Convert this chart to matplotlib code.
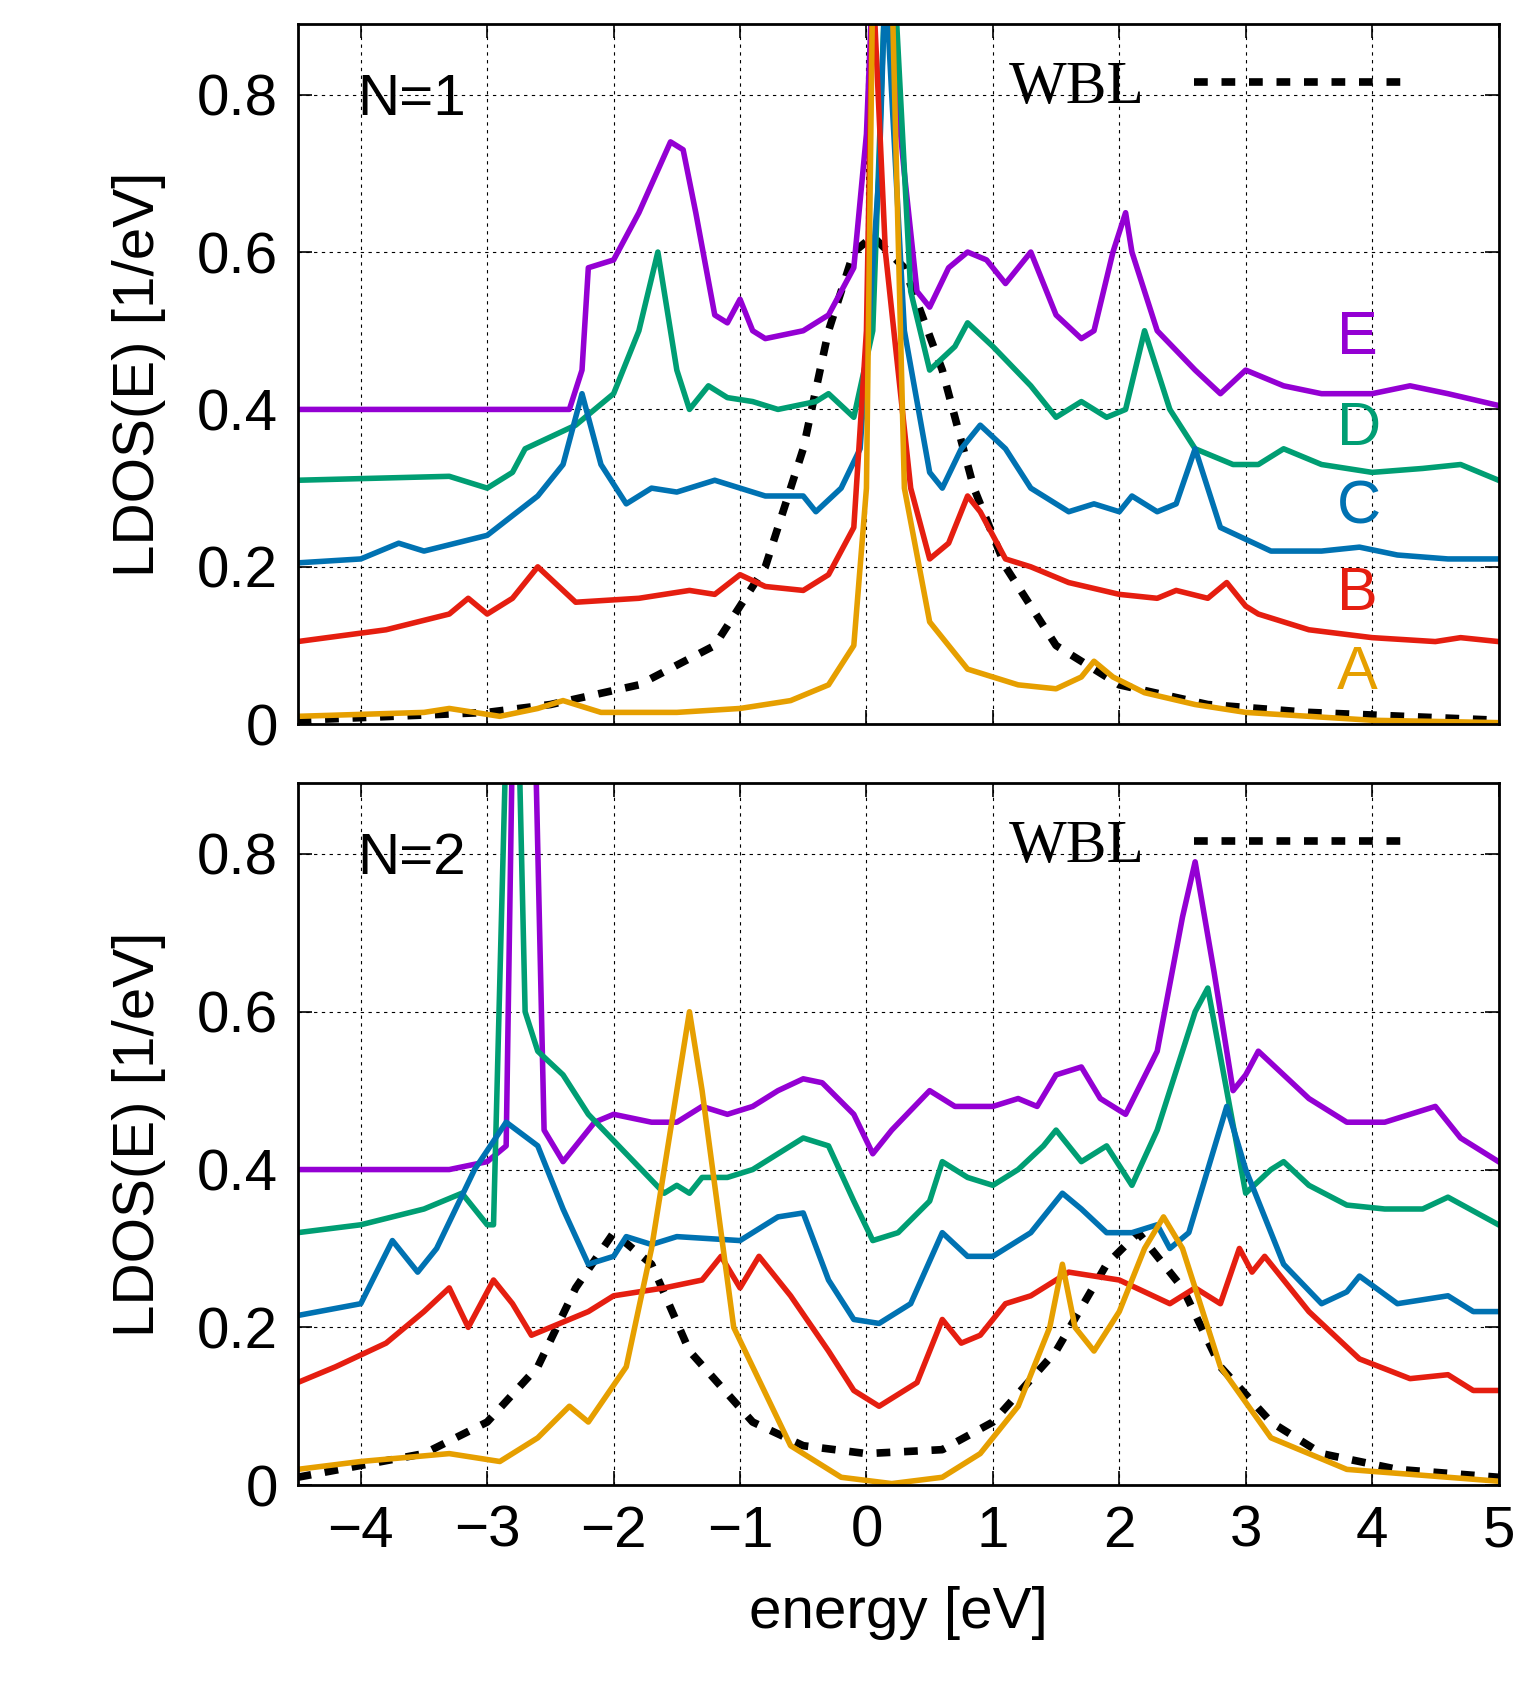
import matplotlib
matplotlib.use("Agg")
import matplotlib.pyplot as plt

# ---- data: (energy, LDOS) ----
top_E_x = [-4.5,-2.35,-2.25,-2.2,-2.0,-1.8,-1.55,-1.45,-1.35,-1.2,-1.1,-1.0,-0.9,-0.8,-0.5,-0.3,-0.1,0.0,0.05,0.15,0.3,0.4,0.5,0.65,0.8,0.95,1.1,1.3,1.5,1.7,1.8,1.95,2.05,2.1,2.3,2.6,2.8,3.0,3.3,3.6,4.0,4.3,4.6,5.0]
top_E_y = [0.4,0.4,0.45,0.58,0.59,0.65,0.74,0.73,0.65,0.52,0.51,0.54,0.5,0.49,0.5,0.52,0.58,0.75,0.95,0.95,0.7,0.55,0.53,0.58,0.6,0.59,0.56,0.6,0.52,0.49,0.5,0.6,0.65,0.6,0.5,0.45,0.42,0.45,0.43,0.42,0.42,0.43,0.42,0.405]
top_D_x = [-4.5,-3.3,-3.0,-2.8,-2.7,-2.3,-2.0,-1.8,-1.65,-1.5,-1.4,-1.25,-1.1,-0.9,-0.7,-0.4,-0.3,-0.1,0.05,0.15,0.22,0.35,0.5,0.7,0.8,1.0,1.3,1.5,1.7,1.9,2.05,2.2,2.4,2.6,2.9,3.1,3.3,3.6,4.0,4.4,4.7,5.0]
top_D_y = [0.31,0.315,0.3,0.32,0.35,0.38,0.42,0.5,0.6,0.45,0.4,0.43,0.415,0.41,0.4,0.41,0.42,0.39,0.5,0.95,0.95,0.55,0.45,0.48,0.51,0.48,0.43,0.39,0.41,0.39,0.4,0.5,0.4,0.35,0.33,0.33,0.35,0.33,0.32,0.325,0.33,0.31]
top_C_x = [-4.5,-4.0,-3.7,-3.5,-3.0,-2.6,-2.4,-2.25,-2.1,-1.9,-1.7,-1.5,-1.2,-1.0,-0.8,-0.5,-0.4,-0.2,-0.05,0.1,0.15,0.3,0.5,0.6,0.75,0.9,1.1,1.3,1.6,1.8,2.0,2.1,2.3,2.45,2.6,2.8,3.2,3.6,3.9,4.2,4.6,5.0]
top_C_y = [0.205,0.21,0.23,0.22,0.24,0.29,0.33,0.42,0.33,0.28,0.3,0.295,0.31,0.3,0.29,0.29,0.27,0.3,0.35,0.7,0.95,0.5,0.32,0.3,0.35,0.38,0.35,0.3,0.27,0.28,0.27,0.29,0.27,0.28,0.35,0.25,0.22,0.22,0.225,0.215,0.21,0.21]
top_B_x = [-4.5,-3.8,-3.3,-3.15,-3.0,-2.8,-2.6,-2.4,-2.3,-1.8,-1.4,-1.2,-1.0,-0.8,-0.5,-0.3,-0.1,0.0,0.05,0.15,0.35,0.5,0.65,0.8,0.9,1.1,1.3,1.6,2.0,2.3,2.45,2.7,2.85,3.0,3.1,3.5,4.0,4.5,4.7,5.0]
top_B_y = [0.105,0.12,0.14,0.16,0.14,0.16,0.2,0.17,0.155,0.16,0.17,0.165,0.19,0.175,0.17,0.19,0.25,0.5,0.95,0.6,0.3,0.21,0.23,0.29,0.27,0.21,0.2,0.18,0.165,0.16,0.17,0.16,0.18,0.15,0.14,0.12,0.11,0.105,0.11,0.105]
top_A_x = [-4.5,-3.5,-3.3,-2.9,-2.6,-2.4,-2.1,-1.5,-1.0,-0.6,-0.3,-0.1,0.0,0.05,0.2,0.3,0.5,0.8,1.2,1.5,1.7,1.8,1.95,2.2,2.6,3.0,4.0,5.0]
top_A_y = [0.01,0.015,0.02,0.01,0.02,0.03,0.015,0.015,0.02,0.03,0.05,0.1,0.3,0.95,0.95,0.3,0.13,0.07,0.05,0.045,0.06,0.08,0.06,0.04,0.025,0.015,0.005,0.002]
top_W_x = [-4.5,-3.0,-2.5,-1.8,-1.2,-0.8,-0.5,-0.3,-0.1,0.05,0.3,0.6,0.85,1.1,1.5,2.0,2.7,3.5,5.0]
top_W_y = [0.005,0.015,0.025,0.05,0.1,0.2,0.35,0.5,0.6,0.62,0.58,0.45,0.3,0.2,0.1,0.05,0.025,0.015,0.005]

bot_E_x = [-4.5,-3.3,-3.0,-2.85,-2.8,-2.62,-2.55,-2.4,-2.3,-2.15,-2.0,-1.7,-1.5,-1.3,-1.1,-0.9,-0.7,-0.5,-0.35,-0.1,0.05,0.2,0.5,0.7,1.0,1.2,1.35,1.5,1.7,1.85,2.05,2.3,2.5,2.6,2.75,2.9,3.0,3.1,3.3,3.5,3.8,4.1,4.3,4.5,4.7,5.0]
bot_E_y = [0.4,0.4,0.41,0.43,0.95,0.95,0.45,0.41,0.43,0.46,0.47,0.46,0.46,0.48,0.47,0.48,0.5,0.515,0.51,0.47,0.42,0.45,0.5,0.48,0.48,0.49,0.48,0.52,0.53,0.49,0.47,0.55,0.72,0.79,0.65,0.5,0.52,0.55,0.52,0.49,0.46,0.46,0.47,0.48,0.44,0.41]
bot_D_x = [-4.5,-4.0,-3.5,-3.2,-3.0,-2.95,-2.85,-2.75,-2.7,-2.6,-2.4,-2.2,-1.9,-1.6,-1.5,-1.4,-1.3,-1.1,-0.9,-0.7,-0.5,-0.3,-0.1,0.05,0.25,0.5,0.6,0.8,1.0,1.2,1.4,1.5,1.7,1.9,2.1,2.3,2.6,2.7,2.85,3.0,3.2,3.3,3.5,3.8,4.1,4.4,4.6,5.0]
bot_D_y = [0.32,0.33,0.35,0.37,0.33,0.33,0.95,0.95,0.6,0.55,0.52,0.47,0.42,0.37,0.38,0.37,0.39,0.39,0.4,0.42,0.44,0.43,0.36,0.31,0.32,0.36,0.41,0.39,0.38,0.4,0.43,0.45,0.41,0.43,0.38,0.45,0.6,0.63,0.5,0.37,0.4,0.41,0.38,0.355,0.35,0.35,0.365,0.33]
bot_C_x = [-4.5,-4.0,-3.75,-3.55,-3.4,-3.1,-2.85,-2.6,-2.4,-2.2,-2.0,-1.9,-1.7,-1.5,-1.0,-0.7,-0.5,-0.3,-0.1,0.1,0.35,0.6,0.8,1.0,1.3,1.55,1.7,1.9,2.1,2.3,2.4,2.55,2.85,3.0,3.3,3.6,3.8,3.9,4.2,4.6,4.8,5.0]
bot_C_y = [0.215,0.23,0.31,0.27,0.3,0.4,0.46,0.43,0.35,0.28,0.29,0.315,0.305,0.315,0.31,0.34,0.345,0.26,0.21,0.205,0.23,0.32,0.29,0.29,0.32,0.37,0.35,0.32,0.32,0.33,0.3,0.32,0.48,0.4,0.28,0.23,0.245,0.265,0.23,0.24,0.22,0.22]
bot_B_x = [-4.5,-4.2,-3.8,-3.5,-3.3,-3.15,-2.95,-2.8,-2.65,-2.5,-2.2,-2.0,-1.6,-1.3,-1.15,-1.0,-0.85,-0.6,-0.3,-0.1,0.1,0.4,0.6,0.75,0.9,1.1,1.3,1.6,2.0,2.4,2.6,2.8,2.95,3.05,3.15,3.5,3.9,4.3,4.6,4.8,5.0]
bot_B_y = [0.13,0.15,0.18,0.22,0.25,0.2,0.26,0.23,0.19,0.2,0.22,0.24,0.25,0.26,0.29,0.25,0.29,0.24,0.17,0.12,0.1,0.13,0.21,0.18,0.19,0.23,0.24,0.27,0.26,0.23,0.25,0.23,0.3,0.27,0.29,0.22,0.16,0.135,0.14,0.12,0.12]
bot_A_x = [-4.5,-4.0,-3.3,-2.9,-2.6,-2.35,-2.2,-1.9,-1.7,-1.45,-1.4,-1.3,-1.05,-0.6,-0.2,0.2,0.6,0.9,1.2,1.45,1.55,1.65,1.8,2.0,2.2,2.35,2.5,2.8,3.2,3.8,5.0]
bot_A_y = [0.02,0.03,0.04,0.03,0.06,0.1,0.08,0.15,0.3,0.55,0.6,0.5,0.2,0.05,0.01,0.002,0.01,0.04,0.1,0.2,0.28,0.2,0.17,0.22,0.3,0.34,0.3,0.15,0.06,0.02,0.005]
bot_W_x = [-4.5,-3.5,-3.0,-2.6,-2.3,-2.0,-1.7,-1.4,-0.9,-0.5,0.0,0.6,1.0,1.5,1.9,2.15,2.5,2.8,3.2,3.6,4.2,5.0]
bot_W_y = [0.01,0.04,0.08,0.15,0.25,0.32,0.28,0.17,0.08,0.05,0.04,0.045,0.08,0.17,0.28,0.32,0.25,0.15,0.08,0.04,0.02,0.01]

labels = ["E", "D", "C", "B", "A"]
label_y = [0.47, 0.355, 0.255, 0.145, 0.045]
colors = ["#9400d3", "#009e73", "#0072b2", "#e51e10", "#e69f00"]
xticks = [-4, -3, -2, -1, 0, 1, 2, 3, 4, 5]
yticks = [0, 0.2, 0.4, 0.6, 0.8]
ytick_labels = ["0", "0.2", "0.4", "0.6", "0.8"]

plt.rcParams["font.family"] = "Liberation Sans"
fig = plt.figure(figsize=(15.26, 17.02), dpi=100)
ax1 = fig.add_axes([0.195, 0.5745, 0.787, 0.4115])
ax2 = fig.add_axes([0.195, 0.1274, 0.787, 0.4126])

panels = [
    (ax1, "N=1", [(top_E_x, top_E_y), (top_D_x, top_D_y), (top_C_x, top_C_y), (top_B_x, top_B_y), (top_A_x, top_A_y)], (top_W_x, top_W_y)),
    (ax2, "N=2", [(bot_E_x, bot_E_y), (bot_D_x, bot_D_y), (bot_C_x, bot_C_y), (bot_B_x, bot_B_y), (bot_A_x, bot_A_y)], (bot_W_x, bot_W_y)),
]

for ax, title, curves, wbl in panels:
    ax.plot(wbl[0], wbl[1], color="black", lw=5.5, ls=(0, (1.8, 1.8)), label="WBL")
    for (xs, ys), c in zip(curves, colors):
        ax.plot(xs, ys, color=c, lw=4, solid_joinstyle="round")
    ax.set_xlim(-4.5, 5)
    ax.set_ylim(0, 0.89)
    ax.set_xticks(xticks)
    ax.set_yticks(yticks)
    ax.set_yticklabels(ytick_labels)
    ax.grid(True, color="black", ls=(0, (3, 4)), lw=0.8)
    ax.tick_params(direction="in", top=True, right=True, length=10, width=1.2, labelsize=42, pad=14)
    for s in ax.spines.values():
        s.set_linewidth(2)
    ax.set_ylabel("LDOS(E) [1/eV]", fontsize=42, labelpad=22)
    ax.text(0.05, 0.93, title, transform=ax.transAxes, fontsize=42, va="top")
    ax.legend(loc="upper right", frameon=False, handlelength=3.6,
              prop={"family": "Liberation Serif", "size": 44}, markerfirst=False,
              borderaxespad=0.2, bbox_to_anchor=(0.96, 1.0))

for lab, ly, c in zip(labels, label_y, colors):
    ax1.text(3.72, ly, lab, color=c, fontsize=44)

ax1.tick_params(labelbottom=False)
ax2.set_xticklabels(["\u22124", "\u22123", "\u22122", "\u22121", "0", "1", "2", "3", "4", "5"])
ax2.set_xlabel("energy [eV]", fontsize=42, labelpad=20)

fig.savefig("out.png", dpi=100)
